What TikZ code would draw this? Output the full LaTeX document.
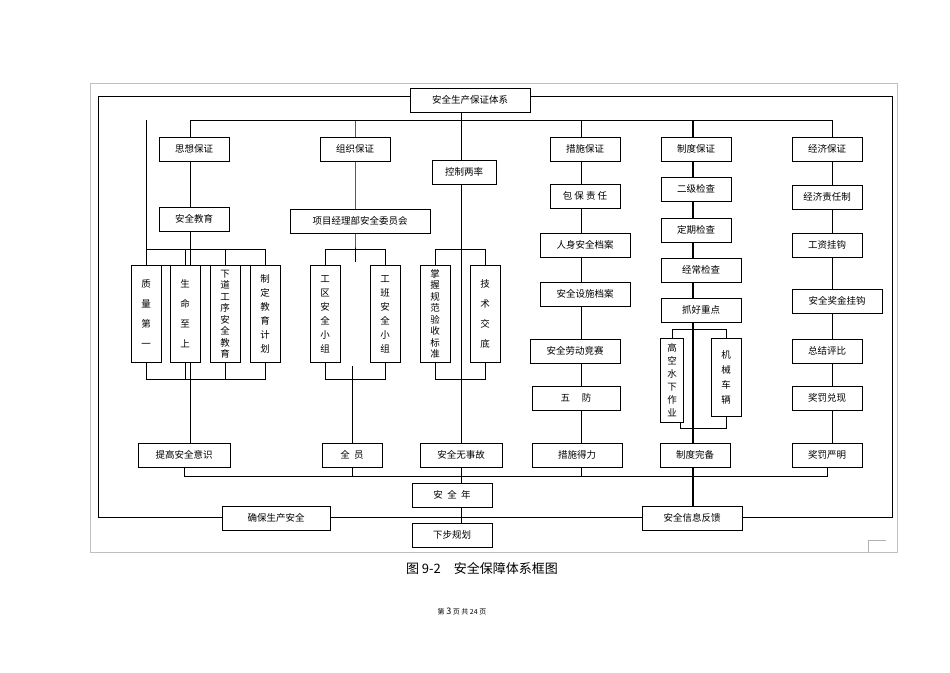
\documentclass[tikz,border=0pt]{standalone}
\usepackage{fontspec}
\setmainfont{Noto Sans CJK SC}
\usetikzlibrary{backgrounds}
\begin{document}
\begin{tikzpicture}[x=1pt,y=-1pt,
  bx/.style={draw,fill=white,line width=0.7pt,inner sep=1pt,font=\fontsize{9.5}{11}\selectfont,minimum height=24pt},
  vb/.style={bx,minimum width=30pt,minimum height=97pt,align=center,font=\fontsize{9.5}{11.5}\selectfont},
  vs/.style={bx,minimum width=30pt,minimum height=97pt,align=center,font=\fontsize{9.5}{20}\selectfont},
  ln/.style={line width=0.6pt}]
\useasboundingbox (0,0) rectangle (950,672);
\draw[gray!50] (90,83) rectangle (897,552);
\draw[gray!60] (868,552) -- (868,540) -- (886,540);
% nodes
\node[bx,minimum width=120pt] (top) at (470,100) {安全生产保证体系};
\node[bx,minimum width=70pt] (sx) at (194,149) {思想保证};
\node[bx,minimum width=70pt] (zz) at (355,149) {组织保证};
\node[bx,minimum width=64pt] (kz) at (464,172) {控制两率};
\node[bx,minimum width=70pt] (cs) at (585,149) {措施保证};
\node[bx,minimum width=70pt] (zd) at (696,149) {制度保证};
\node[bx,minimum width=70pt] (jj) at (827,149) {经济保证};
% col1
\node[bx,minimum width=70pt] (jy) at (194,219) {安全教育};
\node[vs] (v1) at (146,314) {质\\量\\第\\一};
\node[vs] (v2) at (185,314) {生\\命\\至\\上};
\node[vb] (v3) at (225,314) {下\\道\\工\\序\\安\\全\\教\\育};
\node[vb,font=\fontsize{9.5}{14}\selectfont] (v4) at (265,314) {制\\定\\教\\育\\计\\划};
\node[bx,minimum width=92pt] (tg) at (184,455) {提高安全意识};
% col2
\node[bx,minimum width=140pt] (xm) at (360,221) {项目经理部安全委员会};
\node[vb,font=\fontsize{9.5}{14}\selectfont] (w1) at (325,314) {工\\区\\安\\全\\小\\组};
\node[vb,font=\fontsize{9.5}{14}\selectfont] (w2) at (385,314) {工\\班\\安\\全\\小\\组};
\node[bx,minimum width=60pt] (qy) at (352,455) {全\ \ 员};
% col3
\node[vb] (k1) at (435,314) {掌\\握\\规\\范\\验\\收\\标\\准};
\node[vs] (k2) at (485,314) {技\\术\\交\\底};
\node[bx,minimum width=82pt] (aw) at (461,455) {安全无事故};
\node[bx,minimum width=80pt] (an) at (452,495) {安\ \ 全\ \ 年};
\node[bx,minimum width=80pt] (xb) at (452,535) {下步规划};
% col4
\node[bx,minimum width=70pt] (bb) at (585,196) {包 保 责 任};
\node[bx,minimum width=90pt] (rs) at (585,245) {人身安全档案};
\node[bx,minimum width=90pt] (ss) at (585,294) {安全设施档案};
\node[bx,minimum width=90pt] (ld) at (575,351) {安全劳动竞赛};
\node[bx,minimum width=88pt] (wf) at (576,398) {五\quad\ 防};
\node[bx,minimum width=90pt] (cd) at (577,455) {措施得力};
% col5
\node[bx,minimum width=70pt] (ej) at (696,189) {二级检查};
\node[bx,minimum width=70pt] (dq) at (696,230) {定期检查};
\node[bx,minimum width=80pt] (jc) at (701,270) {经常检查};
\node[bx,minimum width=80pt] (zh) at (701,310) {抓好重点};
\node[bx,minimum width=23pt,minimum height=84pt,align=center,font=\fontsize{9.5}{13}\selectfont] (gk) at (672,380) {高\\空\\水\\下\\作\\业};
\node[bx,minimum width=30pt,minimum height=78pt,align=center,font=\fontsize{9.5}{15}\selectfont] (jx) at (726,377) {机\\械\\车\\辆};
\node[bx,minimum width=70pt] (zb) at (695,455) {制度完备};
\node[bx,minimum width=100pt] (xx) at (692,518) {安全信息反馈};
% col6
\node[bx,minimum width=70pt] (jz) at (827,197) {经济责任制};
\node[bx,minimum width=70pt] (gz) at (827,245) {工资挂钩};
\node[bx,minimum width=90pt] (aj) at (837,301) {安全奖金挂钩};
\node[bx,minimum width=70pt] (zj) at (827,351) {总结评比};
\node[bx,minimum width=70pt] (dx) at (827,398) {奖罚兑现};
\node[bx,minimum width=70pt] (ym) at (827,455) {奖罚严明};
\node[bx,minimum width=108pt] (qb) at (276,518) {确保生产安全};
% caption
\node[font=\fontsize{13}{15}\selectfont] (cap) at (482,568) {图 9-2\quad 安全保障体系框图};
\node[font=\fontsize{7}{8}\selectfont\rmfamily] (pg) at (462,612) {第 \fontsize{9}{9}\selectfont 3\fontsize{7}{8}\selectfont{} 页 共 24 页};
% lines
\begin{scope}[on background layer]
\draw[ln] (98,96) rectangle (892,517);
\coordinate (b1) at (190,120); \coordinate (b2) at (832,120);
\draw[ln] (b1) -- (b2);
\draw[ln] (top.south -| aw) -- (aw.north);
\draw[ln] (b1) -- (b1 |- tg.north);
\draw[ln] (b1 -| v1) |- (v4.north) ++(0,0);
\draw[ln] (v1.north) -- ++(0,-16) -| (v4.north);
\draw[ln] (v2.north) -- ++(0,-16);  \draw[ln] (v3.north) -- ++(0,-16);
\draw[ln] (v1.south) -- ++(0,16) -| (v4.south);
\draw[ln] (v2.south) -- ++(0,16);  \draw[ln] (v3.south) -- ++(0,16);
\draw[ln] (b1 -| zz) -- (zz.north |- xm.south) -- ++(0,29);
\draw[ln] (w1.north) -- ++(0,-16) -| (w2.north);
\draw[ln] (w1.south) -- ++(0,16) -| (w2.south);
\draw[ln] (qy.north) -- ++(0,-77);
\draw[ln] (k1.north) -- ++(0,-16) -| (k2.north);
\draw[ln] (k1.south) -- ++(0,16) -| (k2.south);
\draw[ln] (aw.south) -- (aw.south |- xb.north);
\draw[ln] (b1 -| cs) ++(-4,0) coordinate (c4) -- (c4 |- cd.north);
\draw[ln, line width=1.1pt] (b1 -| zd) ++(-3,0) coordinate (c5) -- (c5 |- xx.north);
\draw[ln] (gk.north) -- ++(0,-8) -| (jx.north);
\draw[ln] (gk.south) ++(8,0) -- ++(0,6) -| (jx.south);
\draw[ln] (b2) -- (b2 |- ym.north);
\draw[ln] (tg.south) -- ++(0,9) coordinate (d1) -- (d1 -| ym) -- (ym.south);
\draw[ln] (qy.south) -- ++(0,9);
\draw[ln] (c4 |- cd.south) -- ++(0,9);
\end{scope}
\end{tikzpicture}
\end{document}
